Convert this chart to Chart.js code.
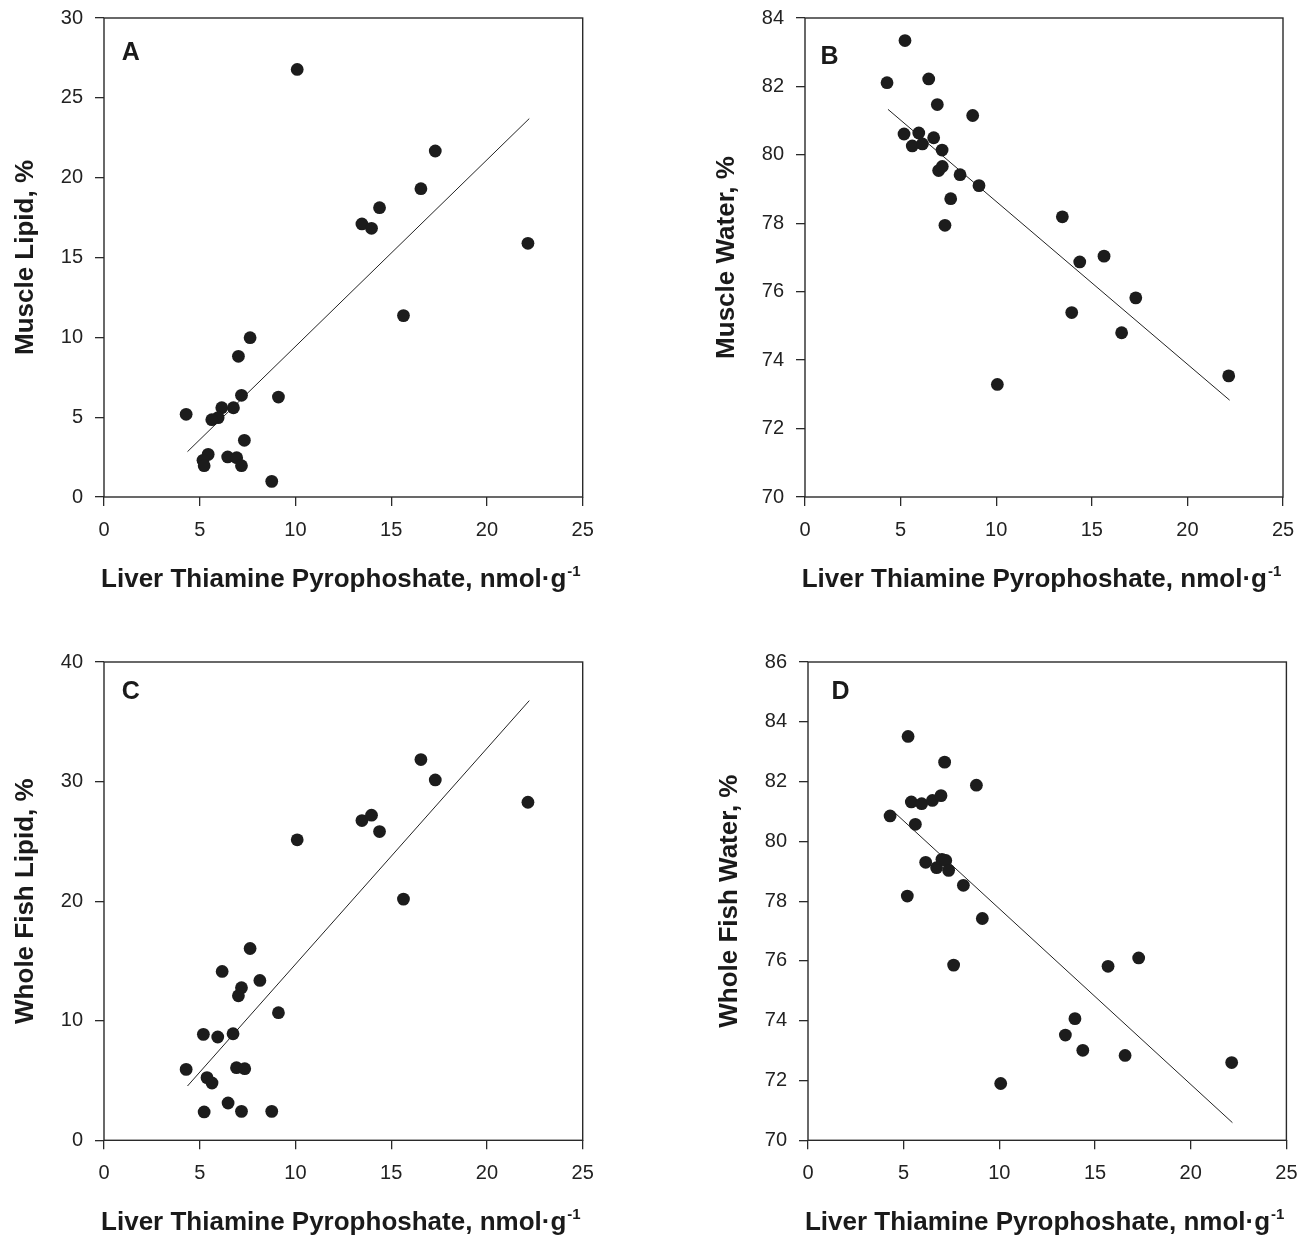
<!DOCTYPE html>
<html>
<head>
<meta charset="utf-8">
<title>Liver TPP vs lipid and water</title>
<script src="https://cdn.jsdelivr.net/npm/chart.js@4.4.1/dist/chart.umd.min.js"></script>
<style>
  html, body { margin:0; padding:0; background:#fff; }
  body { position:relative; width:1309px; height:1236px; overflow:hidden; }
  canvas { position:absolute; }
</style>
</head>
<body>
<canvas id="cA"></canvas>
<canvas id="cB"></canvas>
<canvas id="cC"></canvas>
<canvas id="cD"></canvas>
<script>
// Panel A: muscle lipid
const tppA = [10.09, 17.30, 16.55, 14.39, 13.47, 13.97, 22.14, 15.64, 7.63, 7.02, 7.18, 9.11, 6.76, 6.15, 4.29, 5.96, 5.63, 7.33, 5.44, 5.17, 5.23, 6.46, 6.93, 7.18, 8.76];
const muscleLipid = [26.78, 21.67, 19.31, 18.12, 17.10, 16.83, 15.89, 11.36, 9.98, 8.81, 6.37, 6.26, 5.59, 5.59, 5.18, 4.97, 4.84, 3.55, 2.67, 2.30, 1.96, 2.51, 2.46, 1.96, 0.98];
const fitA = [[4.36, 2.84], [22.21, 23.70]];

// Panel B: muscle water
const tppB = [5.23, 4.29, 6.47, 6.92, 8.77, 5.18, 5.95, 5.61, 6.14, 6.73, 7.17, 6.99, 7.18, 8.11, 9.10, 7.62, 7.32, 13.46, 14.37, 15.64, 17.30, 13.95, 16.56, 10.06, 22.16];
const muscleWater = [83.34, 82.11, 82.22, 81.47, 81.15, 80.61, 80.64, 80.26, 80.32, 80.50, 80.14, 79.54, 79.66, 79.42, 79.10, 78.72, 77.94, 78.19, 76.87, 77.04, 75.82, 75.39, 74.80, 73.29, 73.54];
const fitB = [[4.34, 81.33], [22.21, 72.83]];

// Panel C: whole fish lipid
const tppC = [16.55, 17.30, 22.14, 13.47, 13.97, 14.39, 10.09, 15.64, 7.63, 6.17, 8.14, 7.18, 7.02, 9.11, 5.19, 5.94, 6.74, 4.29, 6.92, 7.35, 5.38, 5.64, 6.48, 5.23, 7.18, 8.76];
const fishLipid = [31.84, 30.14, 28.27, 26.74, 27.19, 25.82, 25.13, 20.17, 16.04, 14.12, 13.37, 12.76, 12.09, 10.67, 8.86, 8.64, 8.91, 5.93, 6.07, 5.99, 5.24, 4.79, 3.12, 2.37, 2.42, 2.42];
const fitC = [[4.36, 4.54], [22.21, 36.77]];

// Panel D: whole fish water
const tppD = [5.23, 7.14, 8.80, 5.40, 5.94, 6.50, 6.95, 4.29, 5.61, 6.15, 6.72, 7.00, 7.20, 7.35, 8.12, 5.19, 9.11, 7.61, 15.68, 17.28, 13.95, 13.45, 14.36, 16.57, 10.07, 22.14];
const fishWater = [83.51, 82.65, 81.88, 81.32, 81.26, 81.37, 81.53, 80.85, 80.57, 79.30, 79.12, 79.40, 79.36, 79.03, 78.53, 78.17, 77.42, 75.86, 75.82, 76.10, 74.07, 73.52, 73.01, 72.84, 71.90, 72.60];
const fitD = [[4.53, 80.96], [22.18, 70.59]];

// tick labels
const xTicks = [0, 5, 10, 15, 20, 25];
const yTicksA = [0, 5, 10, 15, 20, 25, 30];
const yTicksB = [70, 72, 74, 76, 78, 80, 82, 84];
const yTicksC = [0, 10, 20, 30, 40];
const yTicksD = [70, 72, 74, 76, 78, 80, 82, 84, 86];

const xTitle = 'Liver Thiamine Pyrophoshate, nmol·g';
const xTitleSup = '-1';

Chart.defaults.font.family = '"Liberation Sans", Arial, Helvetica, sans-serif';
Chart.defaults.color = '#222';

const INK = '#1c1c1c';
const AXIS = '#2a2a2a';

// frame, panel letter and x title with superscript
const panelDeco = {
  id: 'panelDeco',
  afterDraw(chart, args, opts){
    const {ctx, chartArea:a} = chart;
    ctx.save();
    ctx.strokeStyle = AXIS;
    ctx.lineWidth = 1.4;
    ctx.strokeRect(a.left, a.top, a.right - a.left, a.bottom - a.top);

    ctx.fillStyle = '#1a1a1a';
    ctx.textBaseline = 'alphabetic';
    ctx.textAlign = 'left';
    ctx.font = 'bold 25px "Liberation Sans", Arial, sans-serif';
    ctx.fillText(opts.letter, a.left + opts.letterDx, a.top + opts.letterDy);

    const main = 'bold 26px "Liberation Sans", Arial, sans-serif';
    const sup = 'bold 15px "Liberation Sans", Arial, sans-serif';
    ctx.font = main;
    const w1 = ctx.measureText(xTitle).width;
    ctx.font = sup;
    const w2 = ctx.measureText(xTitleSup).width;
    const x0 = (a.left + a.right) / 2 - (w1 + w2) / 2 - 3;
    const y0 = a.bottom + 90;
    ctx.font = main;
    ctx.fillText(xTitle, x0, y0);
    ctx.font = sup;
    ctx.fillText(xTitleSup, x0 + w1 + 1, y0 - 11);
    ctx.restore();
  }
};

function makePanel(id, box, xs, ys, fit, yTicks, yLabel, letter, letterDx, letterDy){
  const H = 592;
  const left = box.L - 104, top = box.T - 18;
  const W = Math.round(box.R + 17.5 - left);
  const cv = document.getElementById(id);
  cv.width = W; cv.height = H;
  cv.style.left = left + 'px';
  cv.style.top = top + 'px';
  const pts = xs.map((x, i) => ({x, y: ys[i]}));
  const line = fit.map(p => ({x: p[0], y: p[1]}));
  const tickStyle = { color:'#222', font:{size:20}, padding:12 };
  const gridStyle = { drawOnChartArea:false, drawTicks:true, tickLength:9, color:AXIS, lineWidth:1.3 };
  new Chart(cv, {
    type: 'scatter',
    data: {
      datasets: [
        { data: pts, pointRadius:6.4, pointHoverRadius:6.4, backgroundColor:INK, borderColor:INK, borderWidth:0, showLine:false },
        { type:'line', data: line, borderColor:'#222', borderWidth:1, pointRadius:0, fill:false, tension:0 }
      ]
    },
    options: {
      responsive:false,
      animation:false,
      devicePixelRatio:1,
      layout: { padding: { top: box.T - top, right: left + W - box.R, left:0, bottom:0 } },
      plugins: {
        legend:{display:false},
        tooltip:{enabled:false},
        panelDeco: { letter, letterDx, letterDy }
      },
      scales: {
        x: {
          type:'linear', min:xTicks[0], max:xTicks[xTicks.length-1],
          ticks: Object.assign({ stepSize: xTicks[1] - xTicks[0] }, tickStyle),
          grid: gridStyle,
          border: { display:false },
          afterFit(s){ s.height = top + H - box.B; s.paddingLeft = 0; s.paddingRight = 0; }
        },
        y: {
          type:'linear', min:yTicks[0], max:yTicks[yTicks.length-1],
          ticks: Object.assign({ stepSize: yTicks[1] - yTicks[0] }, tickStyle),
          grid: gridStyle,
          border: { display:false },
          title: { display:true, text:yLabel, color:'#1a1a1a', font:{size:26, weight:'bold'}, padding:{top:10, bottom:0} },
          afterFit(s){ s.width = 104; s.paddingTop = 0; s.paddingBottom = 0; }
        }
      }
    },
    plugins: [panelDeco]
  });
}

makePanel('cA', {L:104, T:17.7, R:582.7, B:496.7}, tppA, muscleLipid, fitA, yTicksA, 'Muscle Lipid, %', 'A', 17.7, 42.3);
makePanel('cB', {L:805.3, T:17.7, R:1283.3, B:496.7}, tppB, muscleWater, fitB, yTicksB, 'Muscle Water, %', 'B', 15.4, 45.6);
makePanel('cC', {L:104, T:661.7, R:582.7, B:1140}, tppC, fishLipid, fitC, yTicksC, 'Whole Fish Lipid, %', 'C', 17.7, 36.6);
makePanel('cD', {L:808.3, T:661.7, R:1286.7, B:1140}, tppD, fishWater, fitD, yTicksD, 'Whole Fish Water, %', 'D', 23.4, 36.6);
</script>
</body>
</html>
